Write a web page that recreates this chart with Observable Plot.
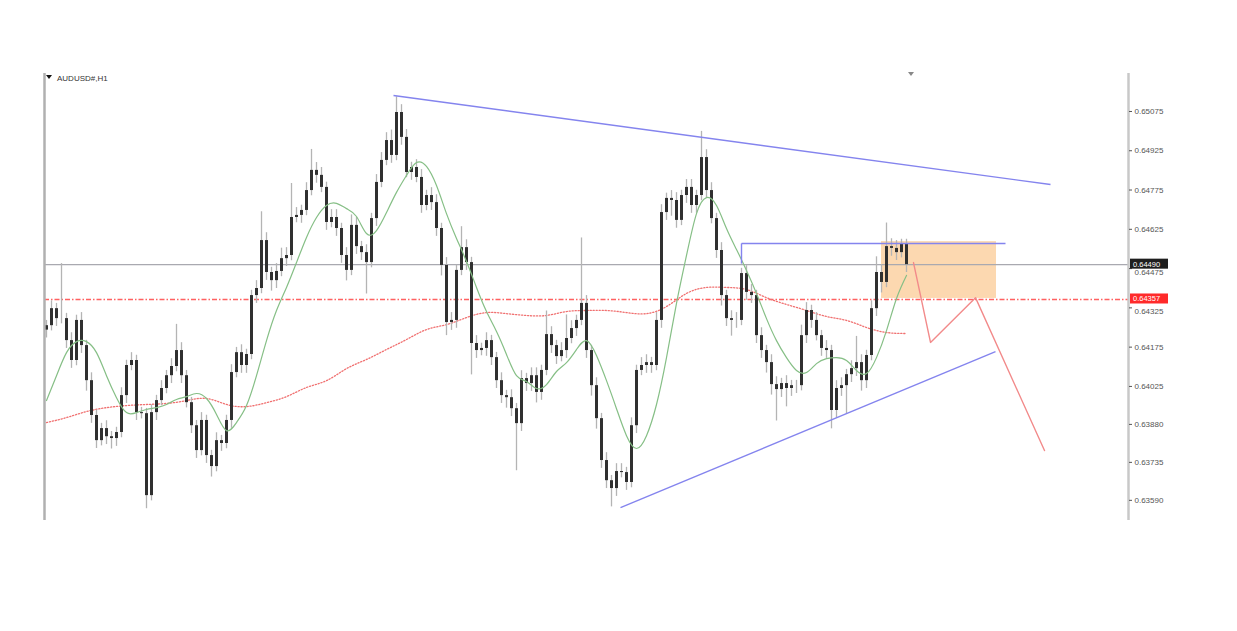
<!DOCTYPE html>
<html><head><meta charset="utf-8">
<script src="https://cdn.jsdelivr.net/npm/d3@7"></script>
<script src="https://cdn.jsdelivr.net/npm/@observablehq/plot@0.6"></script>
<style>html,body{margin:0;padding:0;background:#fff;} #chart{width:1237px;height:631px;}</style>
</head><body><div id="chart"></div>
<script>
const symbolTitle = "AUDUSD#,H1";
const pip = 0.0001;
const firstOpen = 0.64240;
const closes = [
0.64257,0.64322,0.64284,0.64284,0.64200,0.64124,0.64277,0.64181,0.64047,0.63914,
0.63818,0.63864,0.63833,0.63826,0.63849,0.63990,0.64105,0.64124,0.63925,0.63921,
0.63608,0.63925,0.63971,0.64017,0.64066,0.64101,0.64162,0.64066,0.63963,0.63875,
0.63780,0.63895,0.63761,0.63719,0.63818,0.63807,0.63895,0.64078,0.64154,0.64105,
0.64147,0.64372,0.64399,0.64582,0.64460,0.64429,0.64464,0.64513,0.64525,0.64670,
0.64678,0.64697,0.64773,0.64850,0.64831,0.64785,0.64651,0.64670,0.64628,0.64525,
0.64468,0.64640,0.64559,0.64536,0.64498,0.64666,0.64804,0.64888,0.64964,0.64907,
0.65071,0.64976,0.64842,0.64861,0.64823,0.64716,0.64754,0.64727,0.64628,0.64487,
0.64269,0.64277,0.64468,0.64555,0.64498,0.64189,0.64162,0.64170,0.64200,0.64135,
0.64047,0.63990,0.63982,0.63940,0.63883,0.64055,0.64036,0.64066,0.64002,0.64086,
0.64223,0.64181,0.64139,0.64162,0.64208,0.64246,0.64277,0.64342,0.64162,0.64028,
0.63902,0.63742,0.63665,0.63635,0.63700,0.63696,0.63658,0.63875,0.64086,0.64105,
0.64116,0.64105,0.64277,0.64689,0.64743,0.64735,0.64659,0.64754,0.64785,0.64716,
0.64754,0.64899,0.64773,0.64666,0.64544,0.64372,0.64284,0.64277,0.64277,0.64456,
0.64384,0.64372,0.64219,0.64162,0.64116,0.64032,0.64013,0.64036,0.64017,0.64028,
0.64028,0.64219,0.64315,0.64277,0.64219,0.64170,0.64162,0.63933,0.64017,0.64028,
0.64070,0.64093,0.64116,0.64047,0.64143,0.64322,0.64460,0.64422,0.64559,0.64552,
0.64536,0.64567,0.64490];
const wickUp = [
2,3,2,21,2,3,2,3,2,3, 2,2,3,2,2,3,2,3,2,2, 2,3,2,3,2,3,10,3,2,2, 2,3,2,2,3,2,2,3,2,3,
2,2,3,11,3,2,3,4,3,13, 3,2,3,8,3,3,2,3,3,2, 3,4,3,2,3,2,3,3,3,4, 6,3,3,2,3,3,2,3,3,2,
3,3,2,8,3,2,3,2,3,2, 2,3,2,3,2,3,2,3,3,2, 9,3,2,3,9,3,2,25,3,2, 3,2,3,2,3,3,2,3,2,3,
3,2,3,3,2,3,3,2,3,3, 2,10,3,3,2,3,2,3,3,2, 3,3,2,3,2,3,3,2,3,2, 2,4,3,2,3,2,3,2,3,3,
2,3,10,3,2,3,6,3,9,3, 3,2,2];
const wickDn = [
3,2,3,2,3,3,2,3,4,3, 3,2,3,4,3,2,3,2,3,2, 5,2,3,2,2,3,2,3,2,3, 3,2,3,4,2,3,2,3,2,3,
3,2,3,2,3,4,3,2,3,2, 2,3,2,2,3,2,3,2,3,3, 4,2,3,3,12,2,3,2,2,3, 2,3,2,3,2,3,2,3,3,4,
5,3,3,2,3,12,3,2,3,3, 3,3,4,3,18,3,3,3,4,3, 2,3,3,2,3,2,3,2,3,4, 4,3,3,7,3,2,3,2,3,2,
3,3,2,3,3,6,3,2,3,3, 3,2,3,2,3,4,3,6,3,2, 3,3,3,3,4,4,12,3,7,3, 3,2,3,3,2,3,3,7,3,3,
11,3,3,4,3,2,3,4,2,3, 3,2,3];
// fast moving average (green), read every 2 bars
const fastMA = [
0.63971,0.64066,0.64154,0.64196,0.64196,0.64154,0.64066,0.63982,0.63925,0.63925,
0.63937,0.63944,0.63956,0.63975,0.63986,0.63998,0.63979,0.63918,0.63856,0.63887,
0.63952,0.64066,0.64200,0.64315,0.64403,0.64498,0.64594,0.64670,0.64716,0.64724,
0.64704,0.64674,0.64609,0.64620,0.64689,0.64766,0.64831,0.64880,0.64865,0.64792,
0.64685,0.64590,0.64502,0.64403,0.64311,0.64235,0.64147,0.64066,0.64044,0.64017,
0.64032,0.64082,0.64116,0.64166,0.64200,0.64143,0.64047,0.63940,0.63837,0.63788,
0.63837,0.63956,0.64135,0.64342,0.64525,0.64685,0.64746,0.64716,0.64628,0.64548,
0.64468,0.64380,0.64284,0.64200,0.64135,0.64086,0.64078,0.64112,0.64131,0.64135,
0.64124,0.64086,0.64074,0.64135,0.64238,0.64361,0.64449];
// slow moving average (red dotted), read every 4 bars
const slowMA = [
0.63887,0.63906,0.63929,0.63944,0.63952,0.63956,0.63960,0.63971,0.63979,0.63956,
0.63948,0.63963,0.63986,0.64021,0.64047,0.64093,0.64128,0.64166,0.64204,0.64242,
0.64261,0.64288,0.64307,0.64303,0.64296,0.64296,0.64311,0.64315,0.64315,0.64307,
0.64303,0.64330,0.64380,0.64403,0.64403,0.64395,0.64364,0.64338,0.64315,0.64292,
0.64277,0.64250,0.64231,0.64227];
const tickValues = [0.65075,0.64925,0.64775,0.64625,0.64475,0.64325,0.64175,0.64025,0.63880,0.63735,0.63590];
const coveredTicks = [0.64475, 0.64325];
const bidPrice = 0.64490;
const levelPrice = 0.64357;
const upperTrend = [{x1: 69.4, y1: 0.65136, x2: 200.8, y2: 0.64796}];
const lowerTrend = [{x1: 114.8, y1: 0.63562, x2: 189.8, y2: 0.64158}];
const resistance = [{x1: 139, y1: 0.64571, x2: 191.8, y2: 0.64571}, {x1: 139, y1: 0.64571, x2: 139, y2: 0.64494}];
const zone = [{x1: 167, x2: 190, y1: 0.64361, y2: 0.64578}];
const projX = [173.4, 176.8, 185.8, 199.6];
const projY = [0.64498, 0.64193, 0.64364, 0.63780];
const xDomain = [-0.4, 216.4];
const yDomain = [0.63513, 0.65220];

const font = "'Liberation Sans', Arial, sans-serif";
const bars = closes.map((c, i) => {
  const o = i ? closes[i - 1] : firstOpen;
  return {i, open: o, close: c, high: Math.max(o, c) + wickUp[i] * pip, low: Math.min(o, c) - wickDn[i] * pip};
});
const fastData = fastMA.map((v, k) => ({i: k * 2, v}));
const slowData = slowMA.map((v, k) => ({i: k * 4, v}));
const projData = projX.map((x, k) => ({x, y: projY[k]}));

const chart = Plot.plot({
  width: 1237, height: 631,
  marginTop: 73, marginBottom: 111, marginLeft: 44, marginRight: 109,
  style: {fontFamily: font, fontSize: "8px", background: "#fff"},
  x: {domain: xDomain, axis: null},
  y: {domain: yDomain},
  marks: [
    Plot.rect(zone, {x1: "x1", x2: "x2", y1: "y1", y2: "y2", fill: "#fcd8b0"}),
    Plot.ruleY([bidPrice], {stroke: "#a9a9b0", strokeWidth: 1.2}),
    Plot.ruleY([levelPrice], {stroke: "#ff4545", strokeOpacity: 0.85, strokeWidth: 1.4, strokeDasharray: "5,2,1.5,2"}),
    Plot.line(slowData, {x: "i", y: "v", stroke: "#f07070", strokeWidth: 1.3, strokeDasharray: "1.2,1.8", curve: "natural"}),
    Plot.ruleX(bars, {x: "i", y1: "low", y2: "high", stroke: "#b4b4b4", strokeWidth: 1.3}),
    Plot.ruleX(bars, {x: "i", y1: "open", y2: "close", stroke: "#303030", strokeWidth: 3}),
    Plot.line(fastData, {x: "i", y: "v", stroke: "#86bf86", strokeWidth: 1.2, curve: "natural"}),
    Plot.link(upperTrend, {x1: "x1", y1: "y1", x2: "x2", y2: "y2", stroke: "#8484ee", strokeWidth: 1.4}),
    Plot.link(lowerTrend, {x1: "x1", y1: "y1", x2: "x2", y2: "y2", stroke: "#8484ee", strokeWidth: 1.4}),
    Plot.link(resistance, {x1: "x1", y1: "y1", x2: "x2", y2: "y2", stroke: "#8484ee", strokeWidth: 1.4}),
    Plot.line(projData, {x: "x", y: "y", stroke: "#f28a8a", strokeWidth: 1.4}),
    Plot.ruleX([xDomain[0]], {stroke: "#b0b0b0", strokeWidth: 2.5}),
    Plot.ruleX([xDomain[1]], {stroke: "#c8c8c8", strokeWidth: 2.5}),
    Plot.axisY({ticks: tickValues, anchor: "right", tickSize: 3, tickPadding: 3,
      tickFormat: d => coveredTicks.includes(d) ? "" : d.toFixed(5), fontSize: 8, color: "#555"}),
    Plot.text(coveredTicks, {x: xDomain[1], y: d => d, text: d => d.toFixed(5), textAnchor: "start",
      dx: 6, dy: 4, fontSize: 8, fill: "#555"})
  ]
});
document.getElementById("chart").appendChild(chart);

const svg = d3.select(chart);
const ys = chart.scale("y"), xs = chart.scale("x");
const xr = xs.apply(xDomain[1]);
function priceTag(v, bg) {
  const y = ys.apply(v);
  svg.append("rect").attr("x", xr + 2).attr("y", y - 5.5).attr("width", 38).attr("height", 10).attr("fill", bg);
  svg.append("text").attr("x", xr + 5).attr("y", y + 2.5).attr("fill", "#fff").attr("font-size", 7.5)
    .attr("text-anchor", "start").attr("font-family", font).text(v.toFixed(5));
}
priceTag(bidPrice, "#1e1e1e");
priceTag(levelPrice, "#ff2a2a");
// title
svg.append("path").attr("d", "M46,75 L52,75 L49,79 Z").attr("fill", "#111");
svg.append("text").attr("x", 57).attr("y", 81).attr("font-size", 8).attr("fill", "#333")
  .attr("text-anchor", "start").attr("font-family", font).text(symbolTitle);
// chart shift marker
const sx = xs.apply(closes.length);
svg.append("path").attr("d", `M${sx-3},72 L${sx+3},72 L${sx},76 Z`).attr("fill", "#888");
</script></body></html>
